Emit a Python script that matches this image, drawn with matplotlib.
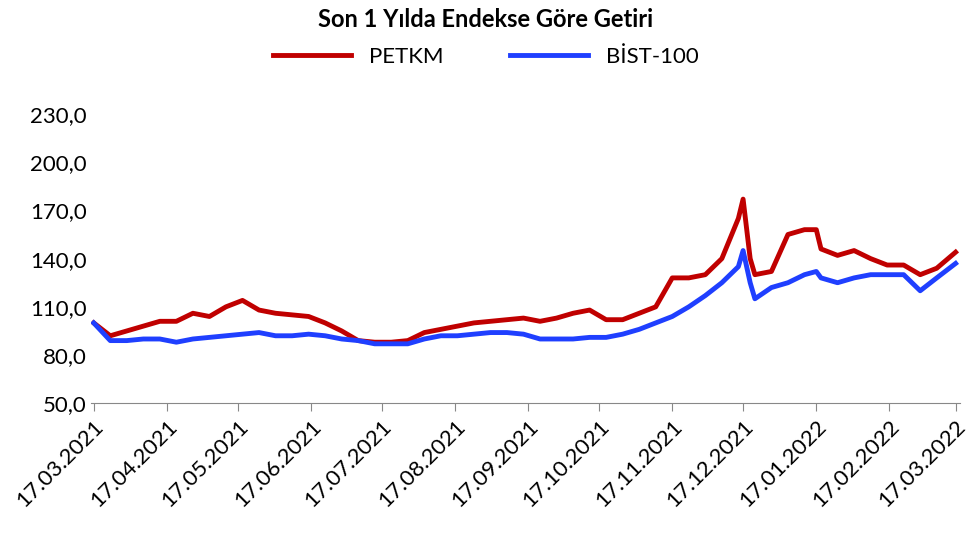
import matplotlib
matplotlib.use("Agg")
import matplotlib.pyplot as plt
import pandas as pd

dates = ["2021-03-17","2021-03-24","2021-03-31","2021-04-07","2021-04-14","2021-04-21","2021-04-28",
"2021-05-05","2021-05-12","2021-05-19","2021-05-26","2021-06-02","2021-06-09","2021-06-16","2021-06-23",
"2021-06-30","2021-07-07","2021-07-14","2021-07-21","2021-07-28","2021-08-04","2021-08-11","2021-08-18",
"2021-08-25","2021-09-01","2021-09-08","2021-09-15","2021-09-22","2021-09-29","2021-10-06","2021-10-13",
"2021-10-20","2021-10-27","2021-11-03","2021-11-10","2021-11-17","2021-11-24","2021-12-01","2021-12-08",
"2021-12-15","2021-12-17","2021-12-20","2021-12-22","2021-12-29","2022-01-05","2022-01-12","2022-01-17",
"2022-01-19","2022-01-26","2022-02-02","2022-02-09","2022-02-16","2022-02-23","2022-03-02","2022-03-09","2022-03-17"]
petkm = [100,92,95,98,101,101,106,104,110,114,108,106,105,104,100,95,89,88,88,89,94,96,98,100,101,102,103,101,103,
106,108,102,102,106,110,128,128,130,140,165,177,140,130,132,155,158,158,146,142,145,140,136,136,130,134,144]
bist = [100,89,89,90,90,88,90,91,92,93,94,92,92,93,92,90,89,87,87,87,90,92,92,93,94,94,93,90,90,90,91,91,93,96,
100,104,110,117,125,135,145,125,115,122,125,130,132,128,125,128,130,130,130,120,128,137]
yticks = [50,80,110,140,170,200,230]
xticks = pd.date_range("2021-03-01","2022-03-01",freq="MS") + pd.Timedelta(days=16)

plt.rcParams["font.family"] = "Lato"
d = pd.to_datetime(dates)
fig = plt.figure(figsize=(9.72,5.45), dpi=100)
ax = fig.add_axes([0.094,0.26,0.894,0.59])
ax.plot(d, petkm, color="#C00000", lw=3.5, label="PETKM")
ax.plot(d, bist, color="#1F3FFF", lw=3.5, label="BİST-100")
ax.set_ylim(50,250)
ax.set_yticks(yticks)
ax.set_yticklabels([f"{v:.1f}".replace(".",",") for v in yticks], fontsize=16)
ax.set_xlim(d[0]-pd.Timedelta(days=1), d[-1]+pd.Timedelta(days=2))
ax.set_xticks(xticks)
ax.set_xticklabels([t.strftime("%d.%m.%Y") for t in xticks], rotation=45, ha="right", rotation_mode="anchor", fontsize=16)
for s in ["top","right","left"]:
    ax.spines[s].set_visible(False)
ax.spines["bottom"].set_color("#888888")
ax.tick_params(axis="y", length=0)
ax.tick_params(axis="x", length=6, color="#888888")
fig.text(0.5,0.965,"Son 1 Yılda Endekse Göre Getiri", ha="center", va="center", fontsize=17, fontweight="bold")
fig.legend(loc="center", bbox_to_anchor=(0.5,0.895), ncol=2, frameon=False, fontsize=16, handlelength=3.5, columnspacing=3)
fig.savefig("out.png", dpi=100)
